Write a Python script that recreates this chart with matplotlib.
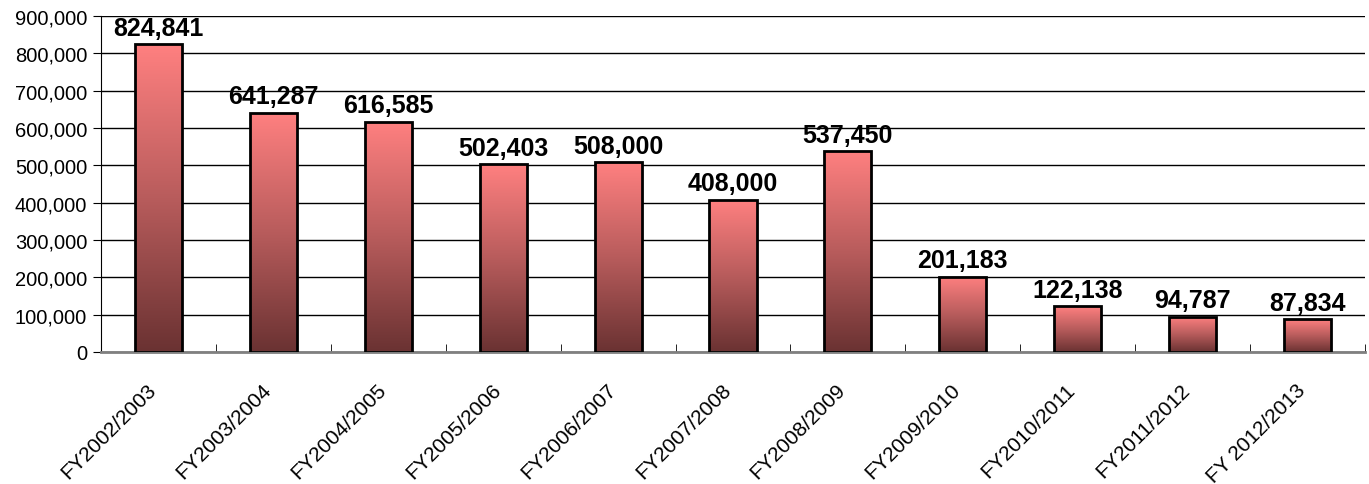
import numpy as np
import matplotlib
matplotlib.use("Agg")
import matplotlib.pyplot as plt
import matplotlib.transforms as mtransforms
from matplotlib.colors import LinearSegmentedColormap
from matplotlib.ticker import FuncFormatter, MultipleLocator

years = ["FY2002/2003", "FY2003/2004", "FY2004/2005", "FY2005/2006", "FY2006/2007",
         "FY2007/2008", "FY2008/2009", "FY2009/2010", "FY2010/2011", "FY2011/2012",
         "FY 2012/2013"]
values = [824841, 641287, 616585, 502403, 508000, 408000, 537450, 201183, 122138,
          94787, 87834]

plt.rcParams["font.family"] = ["Liberation Sans", "DejaVu Sans"]

fig = plt.figure(figsize=(13.69, 4.85), dpi=100)
ax = fig.add_axes([101 / 1369, 1 - 353 / 485, 1264 / 1369, 336 / 485])

x = np.arange(len(years))
bars = ax.bar(x, values, width=0.41, color="none", edgecolor="black", linewidth=2, zorder=3)

# each bar gets its own top-to-bottom gradient
cmap = LinearSegmentedColormap.from_list("bar", ["#6a3232", "#b85c5c", "#ff8080"])
grad = np.linspace(0, 1, 256).reshape(-1, 1)
for b in bars:
    x0, w, h = b.get_x(), b.get_width(), b.get_height()
    im = ax.imshow(grad, cmap=cmap, aspect="auto", origin="lower",
                   extent=[x0, x0 + w, 0, h], zorder=2)
    im.set_clip_path(b)
    ax.text(x0 + w / 2, h + 12000, f"{h:,.0f}", ha="center", va="bottom",
            fontsize=18, fontweight="bold")

ax.set_xlim(-0.5, len(years) - 0.5)
ax.set_ylim(0, 900000)
ax.yaxis.set_major_locator(MultipleLocator(100000))
ax.yaxis.set_major_formatter(FuncFormatter(lambda v, p: f"{v:,.0f}"))
ax.grid(axis="y", color="black", linewidth=1, zorder=1)

ax.set_xticks(x)
ax.set_xticklabels(years, rotation=45, ha="right", rotation_mode="anchor", fontsize=15)
ax.tick_params(axis="x", length=0, pad=20)
shift = mtransforms.ScaledTranslation(-12 / 100, 0, fig.dpi_scale_trans)
for lbl in ax.get_xticklabels():
    lbl.set_transform(lbl.get_transform() + shift)
ax.set_xticks(np.arange(len(years)) + 0.5, minor=True)
ax.tick_params(axis="x", which="minor", direction="in", length=6, color="black")
ax.tick_params(axis="y", labelsize=14.5, length=6, color="black", pad=4)

for s in ["top", "right"]:
    ax.spines[s].set_visible(False)
ax.spines["bottom"].set_color("#808080")
ax.spines["bottom"].set_linewidth(2)
ax.spines["left"].set_color("black")

fig.savefig("out.png", dpi=100)
